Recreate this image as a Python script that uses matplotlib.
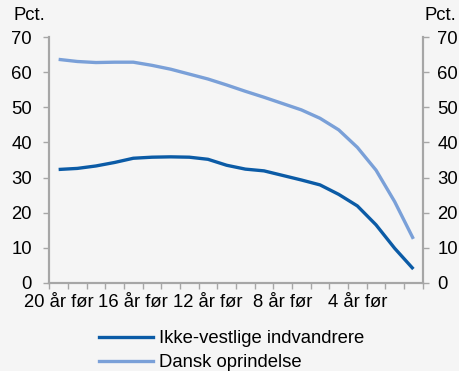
import matplotlib
matplotlib.use("Agg")
import matplotlib.pyplot as plt
from matplotlib.lines import Line2D

plt.rcParams['font.family'] = ['Liberation Sans', 'DejaVu Sans']

categories = [f"{n} år før" for n in range(20, 0, -1)]
tick_labels = {0: "20 år før", 4: "16 år før", 8: "12 år før", 12: "8 år før", 16: "4 år før"}
ikke_vestlige = [32.3, 32.6, 33.3, 34.3, 35.5, 35.8, 35.9, 35.8, 35.2, 33.5,
                 32.4, 31.9, 30.6, 29.3, 27.9, 25.2, 21.9, 16.5, 9.8, 3.9]
dansk = [63.7, 63.1, 62.8, 62.9, 62.9, 62.0, 60.9, 59.5, 58.1, 56.4,
         54.6, 52.9, 51.1, 49.3, 46.9, 43.6, 38.6, 32.1, 23.1, 12.5]

bg = "#f5f5f5"
dark = "#0b5ba6"
light = "#7aa0d8"
grey = "#a6a6a6"
fs = 13.3

W, H = 460, 371
fig = plt.figure(figsize=(W / 100, H / 100), dpi=100, facecolor=bg)
ax = fig.add_axes([49.3 / W, 1 - 282.7 / H, (422.7 - 49.3) / W, (282.7 - 37.3) / H])
ax.set_facecolor(bg)

x = list(range(len(categories)))
ax.plot(x, ikke_vestlige, color=dark, lw=2.4, solid_capstyle='butt')
ax.plot(x, dansk, color=light, lw=2.4, solid_capstyle='butt')

ax.set_xlim(-0.5, len(categories) - 0.5)
ax.set_ylim(0, 70)
ax.set_yticks(range(0, 71, 10))
ax.set_xticks([i - 0.5 for i in range(len(categories) + 1)], minor=False)
ax.set_xticklabels([])
ax.set_xticks(list(tick_labels.keys()), minor=True)
ax.set_xticklabels(list(tick_labels.values()), minor=True)
ax.tick_params(axis='x', which='minor', length=0, pad=8, labelsize=fs)
ax.tick_params(axis='x', which='major', direction='out', length=4, color=grey, width=1)
ax.tick_params(axis='y', direction='out', length=4, color=grey, width=1, labelsize=fs,
               left=True, right=False, labelleft=True, labelright=False, pad=8.5)

ax2 = ax.twinx()
ax2.set_ylim(0, 70)
ax2.set_yticks(range(0, 71, 10))
ax2.tick_params(axis='y', direction='out', length=4, color=grey, width=1, labelsize=fs, pad=6.5)

for a in (ax, ax2):
    for s in ['left', 'right', 'bottom']:
        a.spines[s].set_color(grey)
        a.spines[s].set_linewidth(1.5)
    a.spines['top'].set_visible(False)

fig.text(14 / W, 1 - 15 / H, "Pct.", fontsize=fs, ha='left', va='center')
fig.text(456 / W, 1 - 15 / H, "Pct.", fontsize=fs, ha='right', va='center')

handles = [Line2D([], [], color=dark, lw=2.4), Line2D([], [], color=light, lw=2.4)]
fig.legend(handles, ["Ikke-vestlige indvandrere", "Dansk oprindelse"],
           loc='upper left', bbox_to_anchor=(99 / W, 1 - 330 / H), frameon=False,
           fontsize=fs, handlelength=2.9, handletextpad=0.35, labelspacing=0.4,
           borderaxespad=0, borderpad=0)

fig.savefig("out.png", dpi=100, facecolor=bg)
